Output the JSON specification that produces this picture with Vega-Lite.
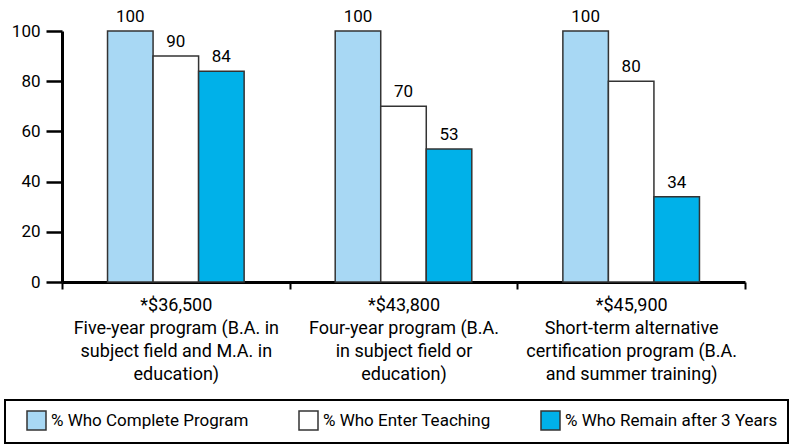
{
  "$schema": "https://vega.github.io/schema/vega-lite/v6.json",
  "autosize": {"type": "none"},
  "padding": {"left": 62, "top": 31, "right": 46, "bottom": 162},
  "width": 683,
  "height": 251,
  "background": "white",
  "config": {"view": {"stroke": null}, "font": "Roboto"},
  "data": {"values": [
    {"program": "*$36,500|Five-year program (B.A. in|subject field and M.A. in|education)", "series": "% Who Complete Program", "value": 100},
    {"program": "*$36,500|Five-year program (B.A. in|subject field and M.A. in|education)", "series": "% Who Enter Teaching", "value": 90},
    {"program": "*$36,500|Five-year program (B.A. in|subject field and M.A. in|education)", "series": "% Who Remain after 3 Years", "value": 84},
    {"program": "*$43,800|Four-year program (B.A.|in subject field or|education)", "series": "% Who Complete Program", "value": 100},
    {"program": "*$43,800|Four-year program (B.A.|in subject field or|education)", "series": "% Who Enter Teaching", "value": 70},
    {"program": "*$43,800|Four-year program (B.A.|in subject field or|education)", "series": "% Who Remain after 3 Years", "value": 53},
    {"program": "*$45,900|Short-term alternative|certification program (B.A.|and summer training)", "series": "% Who Complete Program", "value": 100},
    {"program": "*$45,900|Short-term alternative|certification program (B.A.|and summer training)", "series": "% Who Enter Teaching", "value": 80},
    {"program": "*$45,900|Short-term alternative|certification program (B.A.|and summer training)", "series": "% Who Remain after 3 Years", "value": 34}
  ]},
  "encoding": {
    "x": {
      "field": "program", "type": "nominal", "sort": null,
      "scale": {"paddingInner": 0, "paddingOuter": 0},
      "axis": {
        "title": null, "labelAngle": 0, "labelExpr": "split(datum.label, '|')",
        "labelFontSize": 18, "labelColor": "black", "labelLineHeight": 23,
        "labelPadding": 7, "labelLimit": 300, "labelFont": "Roboto",
        "domainColor": "black", "domainWidth": 3,
        "tickBand": "extent", "tickColor": "black", "tickWidth": 2, "tickSize": 7
      }
    },
    "xOffset": {
      "field": "series", "type": "nominal", "sort": null,
      "scale": {"paddingInner": 0, "paddingOuter": 1.0}
    },
    "y": {
      "field": "value", "type": "quantitative",
      "scale": {"domain": [0, 100]},
      "axis": {
        "title": null, "grid": false, "values": [0, 20, 40, 60, 80, 100],
        "labelFontSize": 17, "labelColor": "black", "labelPadding": 6,
        "labelFont": "Roboto",
        "domainColor": "black", "domainWidth": 3,
        "tickColor": "black", "tickWidth": 2.5, "tickSize": 16
      }
    }
  },
  "layer": [
    {
      "mark": {"type": "bar", "stroke": "#333333", "strokeWidth": 1.5},
      "encoding": {
        "fill": {
          "field": "series", "type": "nominal", "sort": null,
          "scale": {"domain": ["% Who Complete Program", "% Who Enter Teaching", "% Who Remain after 3 Years"], "range": ["#a8d8f4", "#ffffff", "#00b1e9"]},
          "legend": {
            "title": null, "orient": "none", "direction": "horizontal", "columns": 3,
            "legendX": -57, "legendY": 369,
            "symbolType": "square", "symbolSize": 361, "symbolStrokeColor": "#333333", "symbolStrokeWidth": 1.5,
            "symbolOffset": 11,
            "labelFontSize": 17, "labelColor": "black", "labelFont": "Roboto", "labelLimit": 400,
            "labelOffset": 4, "columnPadding": 38,
            "strokeColor": "black", "padding": 10,
            "encode": {"legend": {"update": {"strokeWidth": {"value": 2}}}}
          }
        }
      }
    },
    {
      "mark": {"type": "text", "dy": -14, "fontSize": 17, "font": "Roboto", "color": "black"},
      "encoding": {"text": {"field": "value", "type": "quantitative"}}
    }
  ]
}
